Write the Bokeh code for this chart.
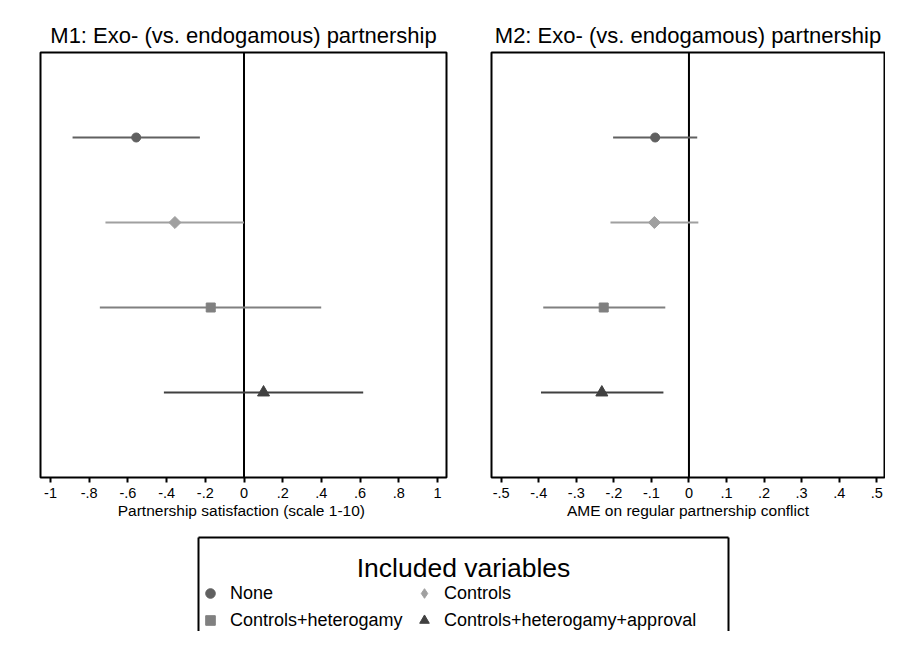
import math
from bokeh.plotting import figure
from bokeh.models import (Range1d, FixedTicker, Span, Legend, LegendItem, Label,
                          LinearAxis, ColumnDataSource)
from bokeh.layouts import column, row
from bokeh.embed import file_html
from bokeh.resources import INLINE

# ---------------- data ----------------
models = ["None", "Controls", "Controls+heterogamy", "Controls+heterogamy+approval"]
markers = ["circle", "diamond", "square", "triangle"]
colors = ["#606060", "#a0a0a0", "#808080", "#404040"]
msizes = [9, 8.5, 9, 12]

m1_est = [-0.557, -0.357, -0.172, 0.101]
m1_lo = [-0.886, -0.716, -0.745, -0.414]
m1_hi = [-0.228, 0.000, 0.399, 0.616]

m2_est = [-0.090, -0.092, -0.227, -0.232]
m2_lo = [-0.202, -0.209, -0.388, -0.394]
m2_hi = [0.022, 0.025, -0.063, -0.068]

m1_ticks = [-1, -0.8, -0.6, -0.4, -0.2, 0, 0.2, 0.4, 0.6, 0.8, 1]
m1_tick_labels = ["-1", "-.8", "-.6", "-.4", "-.2", "0", ".2", ".4", ".6", ".8", "1"]
m2_ticks = [-0.5, -0.4, -0.3, -0.2, -0.1, 0, 0.1, 0.2, 0.3, 0.4, 0.5]
m2_tick_labels = ["-.5", "-.4", "-.3", "-.2", "-.1", "0", ".1", ".2", ".3", ".4", ".5"]

m1_title = "M1: Exo- (vs. endogamous) partnership"
m2_title = "M2: Exo- (vs. endogamous) partnership"
m1_xlabel = "Partnership satisfaction  (scale 1-10)"
m2_xlabel = "AME on regular partnership conflict"
legend_title = "Included variables"

FONT = "Liberation Sans"
PANEL_H = 530


def glyph_marker(m):
    # Stata's diamond is a square turned by 45 degrees
    return "square" if m == "diamond" else m


def glyph_angle(m):
    return math.pi / 4 if m == "diamond" else 0.0


def panel(title, est, lo, hi, xlabel, xr, ticks, tick_labels, width, bl, br):
    p = figure(width=width, height=PANEL_H, x_range=xr, y_range=Range1d(0, 5),
               output_backend="svg", toolbar_location=None,
               min_border_left=bl, min_border_right=br,
               min_border_top=52, min_border_bottom=53)
    p.title.text = title
    p.title.align = "center"
    p.title.text_font = FONT
    p.title.text_font_size = "22px"
    p.title.text_font_style = "normal"
    p.title.text_color = "black"
    p.title.standoff = 10
    p.yaxis.visible = False
    p.grid.visible = False
    p.outline_line_color = "black"
    p.outline_line_width = 2
    p.outline_line_alpha = 1
    p.background_fill_color = "white"
    p.border_fill_color = "white"

    ax = p.xaxis[0]
    ax.ticker = FixedTicker(ticks=ticks)
    ax.major_label_overrides = {t: l for t, l in zip(ticks, tick_labels)}
    ax.axis_line_color = None
    ax.major_tick_line_color = "black"
    ax.major_tick_line_width = 2
    ax.major_tick_out = 5
    ax.major_tick_in = 0
    ax.minor_tick_line_color = None
    ax.major_label_text_font = FONT
    ax.major_label_text_font_size = "14.5px"
    ax.major_label_text_color = "black"
    ax.major_label_standoff = 5
    ax.axis_label = xlabel
    ax.axis_label_text_font = FONT
    ax.axis_label_text_font_size = "15.5px"
    ax.axis_label_text_font_style = "normal"
    ax.axis_label_text_color = "black"
    ax.axis_label_standoff = 1

    p.add_layout(Span(location=0, dimension="height", line_color="black",
                      line_width=2, level="underlay"))

    n = len(est)
    ypos = [n - i for i in range(n)]
    src = ColumnDataSource(dict(y=ypos, est=est, lo=lo, hi=hi, color=colors,
                                marker=[glyph_marker(m) for m in markers],
                                angle=[glyph_angle(m) for m in markers],
                                size=msizes))
    p.segment(x0="lo", x1="hi", y0="y", y1="y", line_color="color",
              line_width=2, source=src)
    p.scatter(x="est", y="y", marker="marker", size="size", angle="angle",
              fill_color="color", line_color="color", source=src)
    return p


p1 = panel(m1_title, m1_est, m1_lo, m1_hi, m1_xlabel,
           Range1d(-1.0517, 1.0465), m1_ticks, m1_tick_labels, 468, 40, 22)
p2 = panel(m2_title, m2_est, m2_lo, m2_hi, m2_xlabel,
           Range1d(-0.5258, 0.5207), m2_ticks, m2_tick_labels, 417, 23, 1)

# ---------------- legend panel ----------------
p3 = figure(width=885, height=101, x_range=Range1d(0, 1), y_range=Range1d(0, 1),
            output_backend="svg", toolbar_location=None, x_axis_location="above",
            min_border_left=198, min_border_right=157, min_border_top=7,
            min_border_bottom=0)
p3.grid.visible = False
p3.outline_line_color = None
p3.add_layout(LinearAxis(), "right")
for ax in p3.xaxis + p3.yaxis:
    ax.ticker = FixedTicker(ticks=[])
    ax.axis_line_color = "black"
    ax.axis_line_width = 2
    ax.major_tick_out = 0
    ax.major_tick_in = 0
    ax.minor_tick_out = 0
    ax.minor_tick_in = 0
    ax.major_label_standoff = 0
    ax.axis_label_standoff = 0

nan = float("nan")
items = []
for name, mk, c in zip(models, markers, colors):
    r = p3.scatter(x=[nan], y=[nan], marker=mk, fill_color=c, line_color=c)
    items.append(LegendItem(label=name, renderers=[r]))

leg = Legend(items=items, orientation="horizontal", ncols=2,
             location=(0, -1), padding=1, margin=0, spacing=3,
             glyph_width=24, glyph_height=24, label_standoff=8, label_width=179,
             label_text_font=FONT, label_text_font_size="18px",
             label_text_color="black", border_line_color=None,
             background_fill_alpha=0, click_policy="none")
p3.add_layout(leg, "center")
p3.add_layout(Label(x=0.5, y=0.677, text=legend_title, text_align="center",
                    text_baseline="alphabetic", text_font=FONT,
                    text_font_size="26.5px", text_color="black"))

layout = column(row(p1, p2), p3)
open("out.html", "w").write(file_html(layout, INLINE))
